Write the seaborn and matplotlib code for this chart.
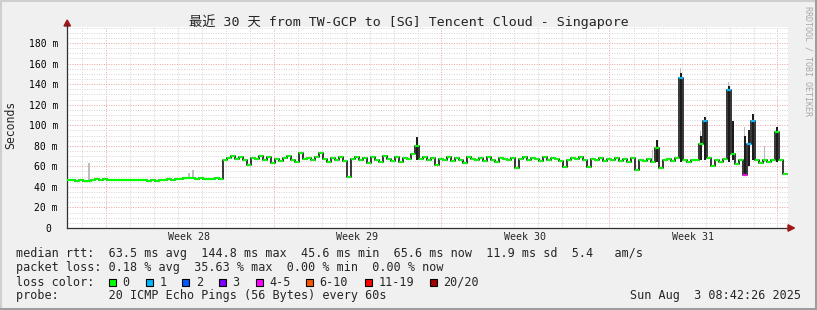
import numpy as np
import pandas as pd
import matplotlib
matplotlib.use("Agg")
import matplotlib.pyplot as plt
from matplotlib.patches import Rectangle, Polygon
from matplotlib.lines import Line2D
import seaborn as sns

# ---------------- data ----------------
step_hours = 4
rtt_low = [47, 46.5, 46, 46.5, 46, 45.5, 46.5, 47.5, 47, 47.5,
           47, 46.5, 47, 46.5, 46.5, 47, 46.5, 47, 47, 46.5,
           46, 46.5, 46, 46.5, 47, 47.5, 47, 48, 48, 48.5,
           48.5, 49, 48, 48.5, 48, 47.5, 48, 48.5, 48]
rtt_high = [66, 68, 70, 67, 69, 66, 61, 68, 67, 70,
            66, 69, 63, 67, 65, 68, 70, 66, 64, 73,
            67, 68, 66, 69, 73, 67, 64, 68, 66, 69,
            65, 50, 67, 69, 66, 68, 63, 69, 66, 64,
            70, 67, 65, 69, 64, 68, 67, 72, 80, 67,
            69, 66, 68, 61, 67, 66, 69, 65, 68, 66,
            63, 69, 67, 66, 68, 65, 69, 66, 64, 68,
            67, 66, 68, 58, 67, 69, 66, 68, 67, 65,
            69, 66, 68, 67, 65, 59, 66, 68, 67, 69,
            66, 59, 67, 66, 68, 65, 67, 66, 68, 65,
            67, 64, 68, 56, 66, 65, 67, 64, 78, 58,
            66, 67, 65, 68, 146, 66, 64, 66, 66, 82,
            104, 68, 60, 66, 64, 67, 134, 72, 62, 66,
            52, 82, 104, 66, 63, 66, 64, 66, 93, 66,
            53]
rtt = rtt_low + rtt_high
hours = [i * step_hours for i in range(len(rtt))]

# packet loss classes at some points (index into loss colours)
loss_hours = [612, 636, 660, 676, 680, 684]
loss_class = [1, 1, 1, 4, 1, 1]

# dark smoke (ping spread) around spikes
smoke_hours = [348, 588, 612, 632, 636, 660, 664, 676, 680, 684, 708]
smoke_lo = [66, 64, 64, 66, 66, 64, 66, 52, 60, 66, 64]
smoke_hi = [89, 86, 151, 90, 108, 138, 104, 90, 95, 111, 98]
# light smoke
light_hours = [20, 120, 124, 584, 612, 632, 660, 676, 696]
light_lo = [47, 49, 49, 64, 140, 80, 130, 80, 64]
light_hi = [63, 54, 56, 76, 156, 94, 142, 98, 80]

loss_labels = ["0", "1", "2", "3", "4-5", "6-10", "11-19", "20/20"]
loss_colors = ["#00ff00", "#00b8ff", "#0059ff", "#7e00ff",
               "#ff00ff", "#ff5500", "#ff0000", "#a10000"]

week_labels = ["Week 28", "Week 29", "Week 30", "Week 31"]
ytick_vals = [0, 20, 40, 60, 80, 100, 120, 140, 160, 180]
ytick_labels = ["0 ", "20 m", "40 m", "60 m", "80 m", "100 m", "120 m",
                "140 m", "160 m", "180 m"]

title = "最近 30 天 from TW-GCP to [SG] Tencent Cloud - Singapore"
line1 = "median rtt:  63.5 ms avg  144.8 ms max  45.6 ms min  65.6 ms now  11.9 ms sd  5.4   am/s"
line2 = "packet loss: 0.18 % avg  35.63 % max  0.00 % min  0.00 % now"
line3 = "loss color:"
line4 = "probe:       20 ICMP Echo Pings (56 Bytes) every 60s"
stamp = "Sun Aug  3 08:42:26 2025"

# ---------------- style ----------------
sns.set_style("white")
plt.rcParams["font.family"] = ["DejaVu Sans Mono", "Noto Sans CJK SC", "DejaVu Sans"]

W, H = 817, 310
fig = plt.figure(figsize=(W / 100, H / 100), dpi=100, facecolor="#f0f0f0")


def fx(px):
    return px / W


def fy(py):
    return 1 - py / H


X0, X1, Y0, Y1 = 67, 788, 228, 27
ax = fig.add_axes([fx(X0), fy(Y0), (X1 - X0) / W, (Y0 - Y1) / H])
ax.set_facecolor("white")
ax.set_xlim(0, 721)
ax.set_ylim(0, (Y0 - Y1) / (185 / 180))

# grid
day_lines = [14.7 + 24 * k for k in range(30)]
week_lines = [38.5 + 168 * k for k in range(5)]
dot = (0, (1, 1.5))
for d in day_lines:
    if min(abs(d - w) for w in week_lines) > 1:
        ax.axvline(d, color="#d4d4d4", lw=0.7, ls=dot, zorder=0)
for w in week_lines:
    ax.axvline(w, color="#eaa0a0", lw=0.7, ls=dot, zorder=0)
for yv in range(5, 196, 5):
    if yv % 20:
        ax.axhline(yv, color="#d4d4d4", lw=0.7, ls=dot, zorder=0)
for yv in range(20, 181, 20):
    ax.axhline(yv, color="#eaa0a0", lw=0.7, ls=dot, zorder=0)

# smoke
ax.bar(np.array(light_hours) + 1, np.array(light_hi) - np.array(light_lo),
       bottom=light_lo, width=1.5, align="edge", color="#bdbdbd", zorder=1, lw=0)
ax.bar(np.array(smoke_hours) + 0.8, np.array(smoke_hi) - np.array(smoke_lo),
       bottom=smoke_lo, width=2.4, align="edge", color="#1c1c1c", zorder=2, lw=0)

# median step line (black connectors)
df = pd.DataFrame({"t": hours + [hours[-1] + step_hours],
                   "rtt": rtt + [rtt[-1]]})
sns.lineplot(data=df, x="t", y="rtt", drawstyle="steps-post", color="#151515",
             lw=1.2, ax=ax, zorder=2.5)

# median coloured by loss
seg_colors = []
for h in hours:
    c = loss_colors[0]
    if h in loss_hours:
        c = loss_colors[loss_class[loss_hours.index(h)]]
    seg_colors.append(c)
ax.hlines(rtt, np.array(hours) + 0.3, np.array(hours) + step_hours - 0.3,
          colors=seg_colors, lw=1.6, zorder=3)

ax.set_xlabel("")
ax.set_ylabel("")

# ticks
ax.set_yticks(ytick_vals)
ax.set_yticklabels(ytick_labels)
ax.tick_params(axis="y", length=3, width=0.8, color="#404040", pad=3.5,
               labelsize=7, labelcolor="black")
ax.set_xticks(week_lines)
ax.set_xticklabels([])
ax.set_xticks(day_lines, minor=True)
ax.tick_params(axis="x", which="major", length=3, width=0.8, color="#c04040")
ax.tick_params(axis="x", which="minor", length=2, width=0.8, color="#909090")
for i, lab in enumerate(week_labels):
    ax.text((week_lines[i] + week_lines[i + 1]) / 2, -(237 - Y0) / (Y0 - Y1),
            lab, transform=ax.get_xaxis_transform(), ha="center", va="center",
            fontsize=7.2)

for s in ["top", "right"]:
    ax.spines[s].set_visible(False)
for s in ["left", "bottom"]:
    ax.spines[s].set_color("#303030")
    ax.spines[s].set_linewidth(0.9)

# arrows
fig.add_artist(Line2D([fx(X0), fx(X0)], [fy(Y1), fy(24)], color="#303030", lw=0.9))
fig.add_artist(Polygon([[fx(64), fy(26)], [fx(70.5), fy(26)], [fx(67.2), fy(20)]],
                       closed=True, color="#a01818"))
fig.add_artist(Polygon([[fx(788), fy(224.8)], [fx(788), fy(231.2)], [fx(794.5), fy(228)]],
                       closed=True, color="#a01818"))

# texts
fig.text(fx(408.5), fy(21.5), title, ha="center", va="center", fontsize=9.55)
fig.text(fx(11), fy(125), "Seconds", rotation=90, ha="center", va="center",
         fontsize=8.3)
fig.text(fx(808), fy(6), "RRDTOOL / TOBI OETIKER", rotation=270, ha="center",
         va="top", fontsize=6, color="#a8a8a8")

fs = 8.5
fig.text(fx(16), fy(254), line1, ha="left", va="center", fontsize=fs)
fig.text(fx(16), fy(268), line2, ha="left", va="center", fontsize=fs)
fig.text(fx(16), fy(282), line3, ha="left", va="center", fontsize=fs)
fig.text(fx(16), fy(296), line4, ha="left", va="center", fontsize=fs)
fig.text(fx(801), fy(296), stamp, ha="right", va="center", fontsize=fs)

box_x = [108.7, 145.7, 182.3, 219, 256, 306, 365, 430]
for bx, lab, col in zip(box_x, loss_labels, loss_colors):
    fig.add_artist(Rectangle((fx(bx), fy(286)), 7 / W, 7 / H, facecolor=col,
                             edgecolor="black", lw=0.8))
    fig.text(fx(bx + 13.5), fy(282), lab, ha="left", va="center", fontsize=fs)

# 3D frame
fig.add_artist(Line2D([0, 1], [fy(0.5), fy(0.5)], color="#cfcfcf", lw=1.5))
fig.add_artist(Line2D([fx(0.5), fx(0.5)], [0, 1], color="#cfcfcf", lw=1.5))
fig.add_artist(Line2D([0, 1], [fy(309), fy(309)], color="#9e9e9e", lw=2.2))
fig.add_artist(Line2D([fx(816), fx(816)], [0, 1], color="#9e9e9e", lw=2.2))

fig.savefig("out.png", dpi=100, facecolor=fig.get_facecolor())
